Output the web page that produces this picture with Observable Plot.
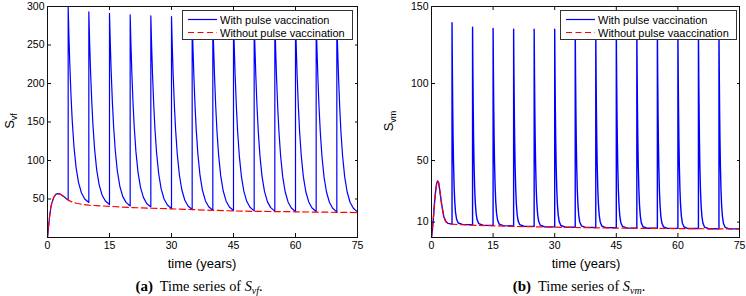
<!DOCTYPE html>
<html>
<head>
<meta charset="utf-8">
<script src="https://cdn.jsdelivr.net/npm/d3@7"></script>
<script src="https://cdn.jsdelivr.net/npm/@observablehq/plot@0.6"></script>
<style>
  html, body { margin: 0; padding: 0; background: #fff; }
  #wrap { position: relative; width: 746px; height: 296px; overflow: hidden; font-family: 'Liberation Sans', Arial, sans-serif; }
  .panel { position: absolute; top: 0; }
  .ylab { position: absolute; transform: translate(-50%, -50%) rotate(-90deg); white-space: nowrap; font-size: 13px; color: #000; }
  .ylab sub { font-size: 9px; vertical-align: -3px; }
  .xlab { position: absolute; transform: translate(-50%, -50%); white-space: nowrap; font-size: 13px; color: #000; }
  .cap { position: absolute; transform: translate(-50%, -50%); white-space: nowrap; font-family: 'Liberation Serif', 'Times New Roman', serif; font-size: 14.3px; color: #000; }
  .cap b { font-size: 15px; }
  .cap sub { font-size: 10px; vertical-align: -3px; }
  .legend { position: absolute; background: #fff; border: 1px solid #333; box-sizing: border-box; font-size: 11px; color: #000; }
  .legend .row { position: absolute; left: 0; height: 13px; display: flex; align-items: center; white-space: nowrap; }
  .legend svg { display: block; }
</style>
</head>
<body>
<div id="wrap"></div>
<script>
// ---------- Data ----------
const xTicks = [0, 15, 30, 45, 60, 75];
const yTicksVf = [50, 100, 150, 200, 250, 300];
const yTicksVm = [10, 50, 100, 150];
const pulseTimes = [5, 10, 15, 20, 25, 30, 35, 40, 45, 50, 55, 60, 65, 70];

// Panel (a): S_vf without pulse vaccination
const timeWithoutVf = [0, 0.25, 0.5, 0.75, 1, 1.5, 2, 2.5, 3, 3.5, 4, 5, 6, 7, 8, 10, 12, 15, 20, 25, 30, 35, 40, 45, 50, 55, 60, 65, 70, 75];
const withoutVf = [0, 14, 27, 37, 44, 52, 56, 57, 56.5, 55, 53, 48.5, 46, 44.5, 43.5, 42, 41.3, 40.5, 39, 38, 37.2, 36.2, 35.3, 34.5, 34, 33.7, 33.4, 33, 32.7, 32.4];

// Panel (a): S_vf with pulse vaccination, one row per pulse (years after the pulse below)
const cycleOffsetsVf = [0, 0.2, 0.4, 0.7, 1.0, 1.4, 1.9, 2.5, 3.2, 4.0, 5.0];
const withVf = [
  [300, 258.7, 224.2, 182.4, 150.2, 118.4, 91.4, 71.5, 58.1, 50.1, 45.5],
  [293, 252.4, 218.5, 177.4, 145.7, 114.5, 87.9, 68.4, 55.2, 47.4, 42.8],
  [291, 250.5, 216.5, 175.5, 143.8, 112.7, 86.1, 66.6, 53.4, 45.6, 41.0],
  [289, 248.6, 214.7, 173.8, 142.2, 111.2, 84.6, 65.2, 52.1, 44.2, 39.7],
  [288, 247.4, 213.4, 172.3, 140.6, 109.4, 82.8, 63.2, 50.0, 42.2, 37.6],
  [287, 246.4, 212.3, 171.2, 139.4, 108.2, 81.5, 62.0, 48.7, 40.9, 36.3],
  [286, 245.4, 211.4, 170.2, 138.5, 107.3, 80.6, 61.0, 47.8, 40.0, 35.4],
  [286, 245.3, 211.2, 170.0, 138.3, 107.0, 80.3, 60.7, 47.5, 39.6, 35.0],
  [285, 244.4, 210.4, 169.3, 137.6, 106.4, 79.8, 60.2, 47.0, 39.2, 34.6],
  [285, 244.0, 210.0, 168.9, 137.2, 106.0, 79.4, 59.8, 46.6, 38.8, 34.2],
  [285, 244.3, 210.1, 168.9, 137.1, 105.8, 79.0, 59.4, 46.2, 38.3, 33.7],
  [285, 244.3, 210.1, 168.9, 137.1, 105.8, 79.0, 59.4, 46.2, 38.3, 33.7],
  [285, 244.2, 210.0, 168.7, 136.8, 105.5, 78.7, 59.1, 45.8, 37.9, 33.3],
  [285, 244.2, 210.0, 168.7, 136.8, 105.5, 78.7, 59.1, 45.8, 37.9, 33.3]
];

// Panel (b): S_vm without pulse vaccination
const timeWithoutVm = [0, 0.25, 0.5, 0.75, 1, 1.25, 1.5, 1.75, 2, 2.5, 3, 3.5, 4, 5, 7, 10, 15, 20, 30, 40, 50, 60, 75];
const withoutVm = [0, 6, 14, 23, 30, 35, 36.7, 35.5, 31, 21, 13.5, 10.3, 9.2, 8.7, 8.3, 8, 7.6, 7.2, 6.7, 6.3, 6, 5.8, 5.5];

// Panel (b): S_vm with pulse vaccination, one row per pulse
const cycleOffsetsVm = [0, 0.08, 0.16, 0.25, 0.35, 0.5, 0.65, 0.85, 1.1, 1.5, 2.5, 5.0];
const withVm = [
  [139.5, 109.1, 85.8, 65.9, 49.8, 33.7, 23.8, 16.4, 12.0, 9.4, 8.5, 8.3],
  [136.5, 106.7, 83.9, 64.3, 48.5, 32.8, 23.1, 15.9, 11.5, 9.0, 8.0, 7.9],
  [135.7, 106.0, 83.3, 63.8, 48.1, 32.4, 22.8, 15.5, 11.2, 8.7, 7.7, 7.5],
  [135.3, 105.6, 82.9, 63.4, 47.7, 32.0, 22.4, 15.1, 10.8, 8.3, 7.3, 7.2],
  [135.3, 105.6, 82.7, 63.3, 47.5, 31.7, 22.1, 14.9, 10.5, 8.0, 7.0, 6.9],
  [135.3, 105.4, 82.5, 63.1, 47.3, 31.5, 21.9, 14.7, 10.3, 7.8, 6.8, 6.7],
  [135, 105.2, 82.4, 62.9, 47.1, 31.3, 21.7, 14.5, 10.1, 7.6, 6.6, 6.5],
  [135, 105.0, 82.2, 62.7, 46.9, 31.1, 21.5, 14.3, 9.9, 7.4, 6.4, 6.3],
  [135, 105.1, 82.2, 62.7, 46.8, 31.0, 21.4, 14.1, 9.7, 7.2, 6.2, 6.1],
  [135, 104.9, 82.0, 62.5, 46.6, 30.8, 21.2, 13.9, 9.5, 7.0, 6.0, 6.0],
  [135, 104.8, 81.9, 62.4, 46.5, 30.7, 21.1, 13.8, 9.4, 6.9, 5.9, 5.9],
  [135, 104.7, 81.8, 62.3, 46.4, 30.6, 21.0, 13.7, 9.3, 6.8, 5.8, 5.8],
  [135, 104.6, 81.7, 62.2, 46.3, 30.5, 20.9, 13.6, 9.2, 6.7, 5.7, 5.7],
  [135, 104.5, 81.6, 62.1, 46.2, 30.4, 20.8, 13.5, 9.1, 6.6, 5.6, 5.6]
];

const legendLabelsA = ["With pulse vaccination", "Without pulse vaccination"];
const legendLabelsB = ["With pulse vaccination", "Without pulse vaaccination"];

// ---------- Build tables ----------
function withoutTable(times, values) {
  return times.map((t, i) => ({t, v: values[i]}));
}
function withTable(times, values, offsets, cycles) {
  const pts = [];
  times.forEach((t, i) => { if (t <= pulseTimes[0]) pts.push({t, v: values[i]}); });
  cycles.forEach((row, k) => row.forEach((v, i) => pts.push({t: pulseTimes[k] + offsets[i], v})));
  return pts;
}

const BLUE = "#0000ff", RED = "#ff0000";
const noText = () => "";

function panel({without, withP, yTicks, yMax, marginLeft, marginRight, blueWidth}) {
  return Plot.plot({
    width: 373, height: 252,
    marginLeft, marginRight, marginTop: 6, marginBottom: 15,
    style: {fontFamily: "'Liberation Sans', Arial, sans-serif", fontSize: "10.5px", background: "transparent", overflow: "visible", color: "#000"},
    x: {domain: [0, 75]},
    y: {domain: [0, yMax]},
    marks: [
      Plot.line(withP, {x: "t", y: "v", stroke: BLUE, strokeWidth: blueWidth, clip: true}),
      Plot.line(without, {x: "t", y: "v", stroke: RED, strokeWidth: 1.2, strokeDasharray: "6,3.5", clip: true}),
      Plot.frame({stroke: "#111", strokeWidth: 1}),
      Plot.axisX({ticks: xTicks, tickSize: 0, tickPadding: 4, label: null}),
      Plot.axisY({ticks: yTicks, tickSize: 0, tickPadding: 3, label: null}),
      Plot.axisX({anchor: "bottom", ticks: xTicks, tickSize: 4, dy: -4, tickFormat: noText, label: null, stroke: "#111"}),
      Plot.axisX({anchor: "top", ticks: xTicks, tickSize: 3, dy: 3, tickFormat: noText, label: null, stroke: "#111"}),
      Plot.axisY({anchor: "left", ticks: yTicks, tickSize: 4, dx: 4, tickFormat: noText, label: null, stroke: "#111"}),
      Plot.axisY({anchor: "right", ticks: yTicks, tickSize: 3, dx: -3, tickFormat: noText, label: null, stroke: "#111"})
    ]
  });
}

const wrap = document.getElementById("wrap");

function addPanel(left, chart) {
  const d = document.createElement("div");
  d.className = "panel";
  d.style.left = left + "px";
  d.appendChild(chart);
  wrap.appendChild(d);
}

addPanel(0, panel({
  without: withoutTable(timeWithoutVf, withoutVf),
  withP: withTable(timeWithoutVf, withoutVf, cycleOffsetsVf, withVf),
  yTicks: yTicksVf, yMax: 300, marginLeft: 47, marginRight: 16, blueWidth: 1.2
}));
addPanel(373, panel({
  without: withoutTable(timeWithoutVm, withoutVm),
  withP: withTable(timeWithoutVm, withoutVm, cycleOffsetsVm, withVm),
  yTicks: yTicksVm, yMax: 150, marginLeft: 58, marginRight: 7, blueWidth: 1.4
}));

function addHTML(html) {
  wrap.insertAdjacentHTML("beforeend", html);
}

// Axis labels
addHTML(`<div class="ylab" style="left:10px;top:121px">S<sub>vf</sub></div>`);
addHTML(`<div class="ylab" style="left:389px;top:121px">S<sub>vm</sub></div>`);
addHTML(`<div class="xlab" style="left:202px;top:263px">time (years)</div>`);
addHTML(`<div class="xlab" style="left:586px;top:263px">time (years)</div>`);

// Captions
addHTML(`<div class="cap" style="left:199px;top:287px"><b>(a)</b>&nbsp; Time series of <i>S</i><sub><i>vf</i></sub>.</div>`);
addHTML(`<div class="cap" style="left:579px;top:287px"><b>(b)</b>&nbsp; Time series of <i>S</i><sub><i>vm</i></sub>.</div>`);

// Legends
function legend(left, top, width, labels) {
  const sample = (dash, color) => `<svg width="34" height="13"><line x1="5" x2="34" y1="6.5" y2="6.5" stroke="${color}" stroke-width="1.2" ${dash ? 'stroke-dasharray="6,3.5"' : ''}/></svg>`;
  addHTML(`<div class="legend" style="left:${left}px;top:${top}px;width:${width}px;height:30px">
    <div class="row" style="top:2px">${sample(false, BLUE)}<span style="margin-left:3px">${labels[0]}</span></div>
    <div class="row" style="top:15px">${sample(true, RED)}<span style="margin-left:3px">${labels[1]}</span></div>
  </div>`);
}
legend(182, 10, 171, legendLabelsA);
legend(560, 10, 177, legendLabelsB);
</script>
</body>
</html>
